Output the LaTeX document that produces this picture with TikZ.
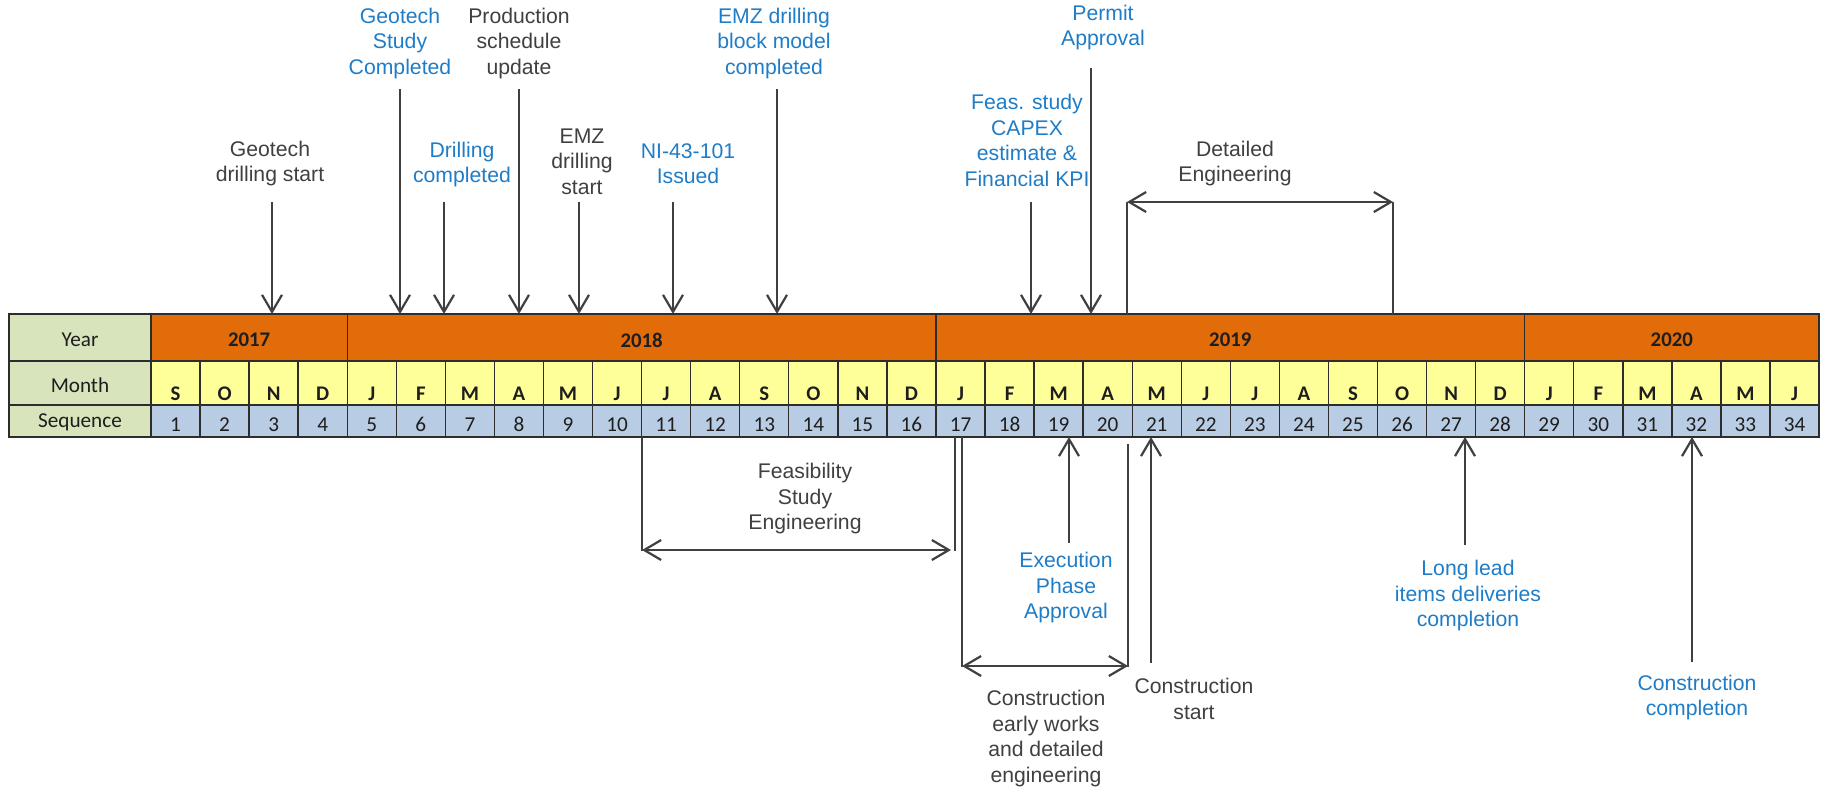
\documentclass[tikz,border=0pt]{standalone}
\usepackage{fontspec}
\setmainfont{Liberation Sans}
\newfontfamily\calfont{Carlito}
\usetikzlibrary{arrows.meta}
\definecolor{lblgreen}{RGB}{216,228,188}
\definecolor{yrorange}{RGB}{226,107,10}
\definecolor{mnyellow}{RGB}{255,255,153}
\definecolor{sqblue}{RGB}{184,204,228}
\definecolor{txtdark}{RGB}{64,64,64}
\definecolor{txtblue}{RGB}{31,125,200}
\definecolor{gridc}{RGB}{45,45,45}
\definecolor{tbltxt}{RGB}{30,30,30}
\begin{document}
\begin{tikzpicture}[x=0.5pt,y=-0.5pt,
  lbl/.style={align=center,inner sep=0pt,font=\fontsize{10.6}{12.75}\selectfont},
  dk/.style={lbl,text=txtdark},
  bl/.style={lbl,text=txtblue},
  tip/.tip={Straight Barb[length=8.5pt,width=10pt,line width=1.1pt]},
  arr/.style={draw=txtdark,line width=1.15pt,-tip},
  darr/.style={draw=txtdark,line width=1.15pt,tip-tip},
  plainln/.style={draw=txtdark,line width=1.15pt},
  cell/.style={draw=gridc,line width=0.7pt},
  tbl/.style={inner sep=0pt,text=tbltxt,font=\calfont\fontsize{10.6}{12}\selectfont},
  tblb/.style={inner sep=0pt,text=tbltxt,font=\calfont\bfseries\fontsize{10.4}{12}\selectfont}
]
\useasboundingbox (0,0) rectangle (1825,793);
\fill[white] (0,0) rectangle (1825,793);

% label column
\draw[cell,fill=lblgreen] (9,314) rectangle (151,361);
\draw[cell,fill=lblgreen] (9,361) rectangle (151,405);
\draw[cell,fill=lblgreen] (9,405) rectangle (151,437);
\node[tbl] (lyear) at (80,340) {Year};
\node[tbl] (lmonth) at (80,385) {Month};
\node[tbl] (lseq) at (80,422) {Sequence};

% year row
\draw[cell,fill=yrorange] (151,314) rectangle (347.24,361);
\draw[cell,fill=yrorange] (347.24,314) rectangle (935.96,361);
\draw[cell,fill=yrorange] (935.96,314) rectangle (1524.68,361);
\draw[cell,fill=yrorange] (1524.68,314) rectangle (1819,361);
\node[tblb] (y17) at (249.1,340) {2017};
\node[tblb] (y18) at (641.6,340) {2018};
\node[tblb] (y19) at (1230.3,340) {2019};
\node[tblb] (y20) at (1671.8,340) {2020};

% month and sequence rows
\foreach \m [count=\i] in {S,O,N,D,J,F,M,A,M,J,J,A,S,O,N,D,J,F,M,A,M,J,J,A,S,O,N,D,J,F,M,A,M,J} {
  \pgfmathsetmacro\xl{151+(\i-1)*49.06}
  \pgfmathsetmacro\xr{151+\i*49.06}
  \pgfmathsetmacro\xc{151+(\i-0.5)*49.06}
  \draw[cell,fill=mnyellow] (\xl,361) rectangle (\xr,405);
  \draw[cell,fill=sqblue] (\xl,405) rectangle (\xr,437);
  \node[tblb] (m\i) at (\xc,394) {\m};
  \node[tbl] (s\i) at (\xc,424.5) {\i};
}

% ---- top labels ----
\node[dk] (geodr) at (270,163.5) {Geotech\\drilling start};
\node[bl] (geost) at (400,43.5) {Geotech\\Study\\Completed};
\node[bl] (drcomp) at (462,164.5) {Drilling\\completed};
\node[dk] (prod) at (519,43.5) {Production\\schedule\\update};
\node[dk] (emzst) at (582,161.5) {EMZ\\drilling\\start};
\node[bl] (ni) at (688,163.5) {NI-43-101\\Issued};
\node[bl] (emzbm) at (774,43.5) {EMZ drilling\\block model\\completed};
\node[bl] (feas) at (1027,140.5) {Feas. study\\CAPEX\\estimate \&\\Financial KPI};
\node[bl] (permit) at (1103,27.5) {Permit\\Approval};
\node[dk] (deteng) at (1235,163.5) {Detailed\\Engineering};

% ---- bottom labels ----
\node[dk] (fse) at (805,498.7) {Feasibility\\Study\\Engineering};
\node[bl] (exec) at (1066,588) {Execution\\Phase\\Approval};
\node[dk] (early) at (1046,738.5) {Construction\\early works\\and detailed\\engineering};
\node[dk] (cstart) at (1194,699) {Construction\\start};
\node[bl] (longlead) at (1468,595.7) {Long lead\\items deliveries\\completion};
\node[bl] (ccomp) at (1697,697.5) {Construction\\completion};

% ---- coordinates ----
\coordinate (a1s) at (272,202);  \coordinate (a1e) at (272,314);
\coordinate (a2s) at (400,89);   \coordinate (a2e) at (400,314);
\coordinate (a3s) at (444,202);  \coordinate (a3e) at (444,314);
\coordinate (a4s) at (519,89);   \coordinate (a4e) at (519,314);
\coordinate (a5s) at (579,202);  \coordinate (a5e) at (579,314);
\coordinate (a6s) at (673,202);  \coordinate (a6e) at (673,314);
\coordinate (a7s) at (777,89);   \coordinate (a7e) at (777,314);
\coordinate (a8s) at (1031,202); \coordinate (a8e) at (1031,314);
\coordinate (a9s) at (1091,68);  \coordinate (a9e) at (1091,314);
\coordinate (dl0) at (1127,314); \coordinate (dl1) at (1127,202);
\coordinate (dr0) at (1393,314); \coordinate (dr1) at (1393,202);

\coordinate (fl0) at (642,437);  \coordinate (fl1) at (642,551);
\coordinate (fr0) at (955,437);  \coordinate (fr1) at (955,551);
\coordinate (fa1) at (642,550);  \coordinate (fa2) at (951,550);
\coordinate (el0) at (962,437);  \coordinate (el1) at (962,667);
\coordinate (er0) at (1128,444); \coordinate (er1) at (1128,667);
\coordinate (ea1) at (962,666);  \coordinate (ea2) at (1128,666);
\coordinate (b1s) at (1069,543); \coordinate (b1e) at (1069,437);
\coordinate (b2s) at (1151,663); \coordinate (b2e) at (1151,437);
\coordinate (b3s) at (1465,545); \coordinate (b3e) at (1465,437);
\coordinate (b4s) at (1692,662); \coordinate (b4e) at (1692,437);

% ---- top connectors ----
\draw[arr] (a1s) -- (a1e);
\draw[arr] (a2s) -- (a2e);
\draw[arr] (a3s) -- (a3e);
\draw[arr] (a4s) -- (a4e);
\draw[arr] (a5s) -- (a5e);
\draw[arr] (a6s) -- (a6e);
\draw[arr] (a7s) -- (a7e);
\draw[arr] (a8s) -- (a8e);
\draw[arr] (a9s) -- (a9e);
\draw[plainln] (dl0) -- (dl1);
\draw[plainln] (dr0) -- (dr1);
\draw[darr] (dl1) -- (dr1);

% ---- bottom connectors ----
\draw[plainln] (fl0) -- (fl1);
\draw[plainln] (fr0) -- (fr1);
\draw[darr] (fa1) -- (fa2);
\draw[plainln] (el0) -- (el1);
\draw[plainln] (er0) -- (er1);
\draw[darr] (ea1) -- (ea2);
\draw[arr] (b1s) -- (b1e);
\draw[arr] (b2s) -- (b2e);
\draw[arr] (b3s) -- (b3e);
\draw[arr] (b4s) -- (b4e);
\end{tikzpicture}
\end{document}
